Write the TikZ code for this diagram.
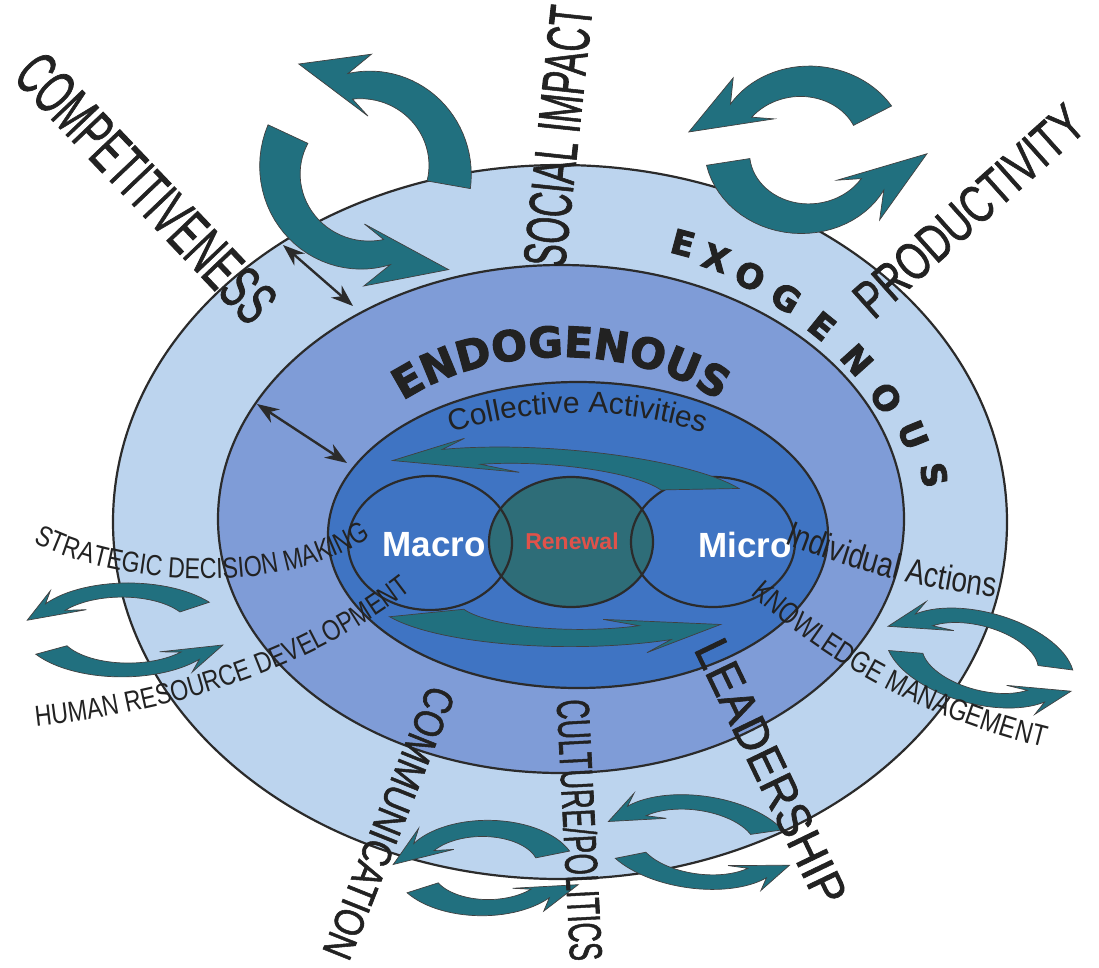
\documentclass[tikz,border=0pt]{standalone}
\usepackage{fontspec}
\usepackage{graphicx}
\setmainfont{Liberation Sans}
\newfontfamily\medfont[FakeBold=1.5]{Liberation Sans}
\newfontfamily\condfont[FakeStretch=0.8]{Liberation Sans}
\newfontfamily\heavyfont[FakeBold=2.5]{DejaVu Sans Bold}
\usetikzlibrary{arrows.meta,decorations.text,shapes.geometric}
\definecolor{ringA}{HTML}{BCD4EE}
\definecolor{ringB}{HTML}{7F9CD7}
\definecolor{ringC}{HTML}{3F74C3}
\definecolor{renew}{HTML}{2E6D78}
\definecolor{teal1}{HTML}{21707F}
\definecolor{edge}{HTML}{2B2B2B}
\definecolor{txt}{HTML}{222222}
\definecolor{renred}{HTML}{E0524A}
\newcommand\nar[2]{\scalebox{#1}[1]{#2}}
% #1 scope opts, #2 R, #3 tail angle, #4 barb angle, #5 tip angle, #6 tip radius, #7 w tail, #8 w head, #9 barb ext
\newcommand\carrow[9]{%
  \begin{scope}[#1]
    \filldraw[arrowsty]
      plot[domain=#3:#4, samples=30, variable=\t]
        ({(#2+#7+(#8-#7)*(\t-(#3))/((#4)-(#3)))*cos(\t)},
         {(#2+#7+(#8-#7)*(\t-(#3))/((#4)-(#3)))*sin(\t)})
      -- ({#4+((#3)-(#4))*0.12}:{#2+#8+#9})
      -- ({#5}:{#6})
      -- ({#4+((#3)-(#4))*0.12}:{#2-#8-#9})
      -- plot[domain=#4:#3, samples=30, variable=\t]
        ({(#2-#7-(#8-#7)*(\t-(#3))/((#4)-(#3)))*cos(\t)},
         {(#2-#7-(#8-#7)*(\t-(#3))/((#4)-(#3)))*sin(\t)})
      -- cycle;
  \end{scope}}
\tikzset{
  ringsty/.style={ellipse, draw=edge, line width=2.2pt, inner sep=0pt},
  arrowsty/.style={fill=teal1, draw=black!75, line width=0.7pt},
  dbl/.style={{Stealth[length=22pt,width=16pt]}-{Stealth[length=22pt,width=16pt]}, line width=2.4pt, draw=edge},
  txt/.style={text=txt, inner sep=0pt},
  exo/.style={txt, font=\heavyfont\fontsize{34}{34}\selectfont},
  circlbl/.style={font=\bfseries\fontsize{35}{35}\selectfont, text=white, inner sep=0pt}
}
\begin{document}
\begin{tikzpicture}[x=1pt,y=-1pt]
\useasboundingbox (0,0) rectangle (1099,967);
\fill[white] (0,0) rectangle (1099,967);

% rings
\node[ringsty, fill=ringA, minimum width=894pt, minimum height=714pt] (outer) at (560,522) {};
\node[ringsty, fill=ringB, minimum width=686pt, minimum height=508pt] (middle) at (561,519) {};
\node[ringsty, fill=ringC, minimum width=500pt, minimum height=306pt] (inner) at (578,535) {};
\node[ellipse, fill=renew, minimum width=164pt, minimum height=130pt, inner sep=0pt] (renewalfill) at (571,542) {};
\node[ringsty, minimum width=164pt, minimum height=134pt] (macro) at (430,543) {};
\node[ringsty, minimum width=164pt, minimum height=130pt] (renewal) at (571,542) {};
\node[ringsty, minimum width=164pt, minimum height=130pt] (micro) at (713,542) {};

% circular arrow pairs
\carrow{shift={(365,170)}}{85}{10}{-100}{-122}{125}{22}{13}{18}
\carrow{shift={(365,170)}}{85}{205}{75}{50}{130}{22}{13}{18}
\carrow{shift={(805,150)}, yscale=0.88}{78}{-30}{-145}{-170}{118}{22}{13}{18}
\carrow{shift={(805,150)}, yscale=0.88}{78}{170}{30}{2}{122}{22}{13}{18}
\carrow{shift={(125,630)}, yscale=0.47}{85}{-35}{-145}{-168}{100}{18}{12}{15}
\carrow{shift={(125,630)}, yscale=0.47}{85}{150}{40}{18}{103}{18}{12}{15}
\carrow{shift={(980,658)}, rotate=-15, yscale=0.5}{78}{-15}{-145}{-172}{98}{18}{12}{15}
\carrow{shift={(980,658)}, rotate=-15, yscale=0.5}{78}{160}{35}{10}{98}{18}{12}{15}
\carrow{shift={(485,868)}, yscale=0.55}{72}{-20}{-148}{-176}{92}{18}{12}{14}
\carrow{shift={(485,868)}, yscale=0.55}{72}{150}{40}{18}{98}{18}{12}{14}
\carrow{shift={(697,842)}, rotate=-8, yscale=0.5}{78}{-30}{-145}{-170}{92}{18}{12}{15}
\carrow{shift={(697,842)}, rotate=-8, yscale=0.5}{78}{145}{35}{12}{97}{18}{12}{15}
% central arrows
\carrow{shift={(551,492)}, rotate=-4, yscale=0.22}{160}{-22}{-125}{-150}{185}{42}{34}{40}
\carrow{shift={(575,598)}, yscale=0.25}{160}{158}{60}{36}{180}{40}{32}{38}

% double-headed arrows between rings
\coordinate (d1a) at (283,245);
\coordinate (d1b) at (353,306);
\coordinate (d2a) at (257,404);
\coordinate (d2b) at (347,463);
\draw[dbl] (d1a) -- (d1b);
\draw[dbl] (d2a) -- (d2b);

% circle labels
\node[circlbl] (macrolbl) at (434,545) {Macro};
\node[circlbl] (microlbl) at (745,545) {Micro};
\node[font=\bfseries\fontsize{23}{23}\selectfont, text=renred, inner sep=0pt] (renewallbl) at (572,541) {Renewal};

% curved labels
\path[decorate, decoration={text along path, text align=center,
  text={|\heavyfont\fontsize{42}{42}\selectfont\color{txt}|ENDOGENOUS}}]
  ([shift={(561,519)}]200:231 and 162) arc[start angle=200, end angle=340, x radius=231, y radius=162];
\path[decorate, decoration={text along path, text align=center,
  text={|\fontsize{30}{30}\selectfont\color{txt}|Collective Activities}}]
  ([shift={(578,535)}]200:230 and 122) arc[start angle=200, end angle=340, x radius=230, y radius=122];
\path[decorate, decoration={text along path, text align=center,
  text={|\condfont\fontsize{35}{35}\selectfont\color{txt}|Individual Actions}}]
  (776,540) .. controls (840,566) and (920,590) .. (1004,598);
\path[decorate, decoration={text along path, text align=center,
  text={|\condfont\fontsize{30}{30}\selectfont\color{txt}|KNOWLEDGE MANAGEMENT}}]
  (748,592) .. controls (810,648) and (900,712) .. (1047,748);
\path[decorate, decoration={text along path, text align=center,
  text={|\condfont\fontsize{29}{29}\selectfont\color{txt}|STRATEGIC DECISION MAKING}}]
  (30,540) .. controls (110,585) and (280,600) .. (374,535);
\path[decorate, decoration={text along path, text align=center,
  text={|\condfont\fontsize{29}{29}\selectfont\color{txt}|HUMAN RESOURCE DEVELOPMENT}}]
  (28,727) .. controls (150,715) and (300,680) .. (418,585);

% EXOGENOUS letters
\node[exo, rotate=-15] (ex1) at (683,243) {E};
\node[exo, rotate=-19] (ex2) at (716,258) {X};
\node[exo, rotate=-25] (ex3) at (750,276) {O};
\node[exo, rotate=-31] (ex4) at (786,298) {G};
\node[exo, rotate=-39] (ex5) at (822,326) {E};
\node[exo, rotate=-48] (ex6) at (857,360) {N};
\node[exo, rotate=-58] (ex7) at (886,398) {O};
\node[exo, rotate=-68] (ex8) at (913,435) {U};
\node[exo, rotate=-79] (ex9) at (934,475) {S};

% straight rotated labels
\node[txt, rotate=-46.4, font=\medfont\fontsize{62}{62}\selectfont] (compet) at (146,188) {\nar{0.585}{COMPETITIVENESS}};
\node[txt, rotate=83.9, font=\medfont\fontsize{60}{60}\selectfont] (social) at (558,136) {\nar{0.57}{SOCIAL IMPACT}};
\node[txt, rotate=41.8, font=\medfont\fontsize{53}{53}\selectfont] (product) at (969,211) {\nar{0.73}{PRODUCTIVITY}};
\node[txt, rotate=-111.8, font=\medfont\fontsize{42}{42}\selectfont] (commun) at (389,823) {\nar{0.8}{COMMUNICATION}};
\node[txt, rotate=-87, font=\medfont\fontsize{46}{46}\selectfont] (culture) at (580,830) {\nar{0.6}{CULTURE/POLITICS}};
\node[txt, rotate=-64.3, font=\medfont\fontsize{48}{48}\selectfont] (leader) at (771,772) {\nar{0.95}{LEADERSHIP}};
\end{tikzpicture}
\end{document}
